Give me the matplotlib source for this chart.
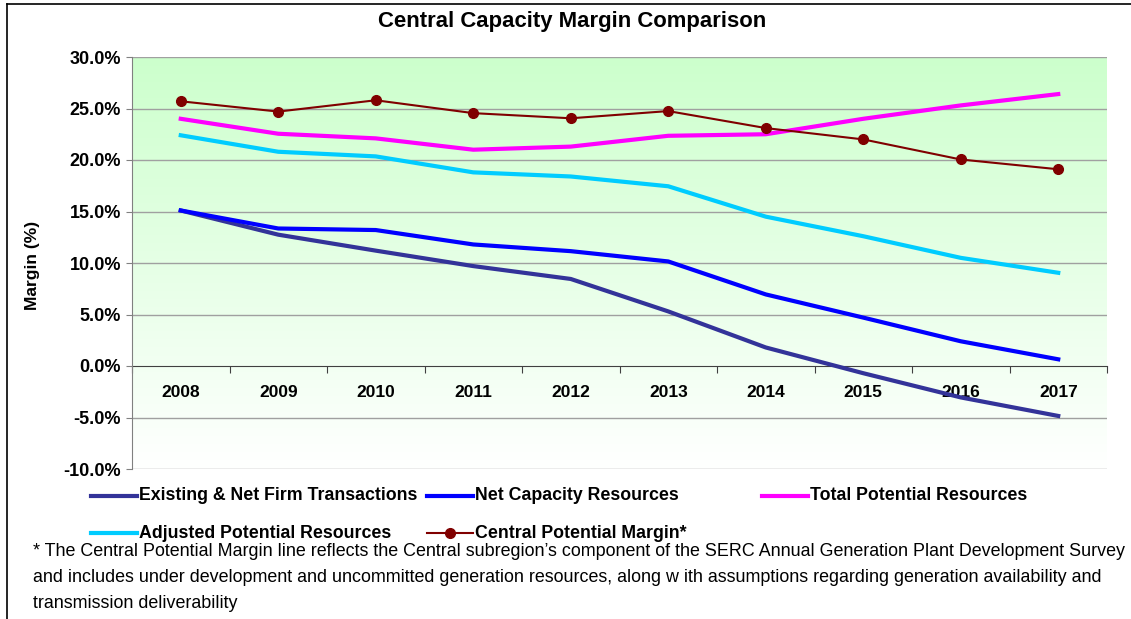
import matplotlib.pyplot as plt
import numpy as np
from matplotlib.lines import Line2D
from matplotlib.ticker import FixedLocator, FuncFormatter

plt.rcParams['font.family'] = ['Liberation Sans', 'DejaVu Sans']

years = ['2008', '2009', '2010', '2011', '2012', '2013', '2014', '2015', '2016', '2017']
existing = [15.1, 12.75, 11.2, 9.7, 8.45, 5.3, 1.8, -0.7, -3.05, -4.85]
net_capacity = [15.1, 13.35, 13.2, 11.8, 11.15, 10.15, 6.95, 4.7, 2.4, 0.65]
total_potential = [24.0, 22.55, 22.1, 21.0, 21.3, 22.35, 22.5, 24.0, 25.3, 26.4]
adjusted_potential = [22.4, 20.8, 20.35, 18.8, 18.4, 17.45, 14.5, 12.6, 10.5, 9.05]
central_margin = [25.7, 24.7, 25.8, 24.55, 24.05, 24.75, 23.1, 22.0, 20.05, 19.1]

series_names = ['Existing & Net Firm Transactions', 'Net Capacity Resources',
                'Total Potential Resources', 'Adjusted Potential Resources',
                'Central Potential Margin*']
footnote = ["* The Central Potential Margin line reflects the Central subregion\u2019s component "
            "of the SERC Annual Generation Plant Development Survey",
            "and includes under development and uncommitted generation resources, along w ith "
            "assumptions regarding generation availability and",
            "transmission deliverability"]

W, H = 1131, 619
fig = plt.figure(figsize=(W / 100, H / 100), dpi=100)


def fx(px):
    return px / W


def fy(py):
    return 1 - py / H


ax = fig.add_axes([fx(132), fy(469), fx(1107) - fx(132), fy(57) - fy(469)])
x = np.arange(len(years))

# green-to-white vertical fill behind the plot
grad = np.linspace(0, 1, 256).reshape(-1, 1)
top = np.array([204, 255, 204]) / 255
bottom = np.array([255, 255, 255]) / 255
img = top + grad[..., None] * (bottom - top)
ax.imshow(img, extent=[-0.5, 9.5, -10, 30], aspect='auto', origin='upper', zorder=0)

ax.set_xlim(-0.5, 9.5)
ax.set_ylim(-10, 30)
for v in range(-10, 31, 5):
    if v != 0:
        ax.axhline(v, color='#a0a0a0', lw=1.0, zorder=1)

lw = 3.0
ax.plot(x, existing, color='#333399', lw=lw, zorder=3)
ax.plot(x, net_capacity, color='#0000ff', lw=lw, zorder=3)
ax.plot(x, total_potential, color='#ff00ff', lw=lw, zorder=3)
ax.plot(x, adjusted_potential, color='#00ccff', lw=lw, zorder=3)
ax.plot(x, central_margin, color='#800000', lw=1.5, marker='o', ms=7, zorder=4)

for s in ['top', 'right']:
    ax.spines[s].set_visible(False)
ax.spines['left'].set_color('#808080')
ax.spines['bottom'].set_position(('data', 0))
ax.spines['bottom'].set_color('#404040')
ax.spines['bottom'].set_zorder(2)

ax.yaxis.set_major_locator(FixedLocator(range(-10, 31, 5)))
ax.yaxis.set_major_formatter(FuncFormatter(lambda v, p: f'{v:.1f}%'))
ax.tick_params(axis='y', length=4, color='#808080', labelsize=13, pad=4)
for lab in ax.get_yticklabels():
    lab.set_fontweight('bold')

ax.set_xticks(np.arange(-0.5, 10, 1))
ax.set_xticklabels([])
ax.set_xticks(x, minor=True)
ax.set_xticklabels(years, minor=True, fontsize=12.5, fontweight='bold')
ax.tick_params(axis='x', which='major', length=5, color='#404040')
ax.tick_params(axis='x', which='minor', length=0, pad=14)

fig.text(fx(572), fy(22), 'Central Capacity Margin Comparison', ha='center', va='center',
         fontsize=15.9, fontweight='bold')
fig.text(fx(33), fy(265), 'Margin (%)', rotation=90, ha='center', va='center',
         fontsize=12.5, fontweight='bold')

# legend, laid out in three columns
styles = [dict(color='#333399'), dict(color='#0000ff'), dict(color='#ff00ff'),
          dict(color='#00ccff'), dict(color='#800000', marker=True)]
col_x = [91, 427, 762]
row_y = [496, 533]
for i, (name, st) in enumerate(zip(series_names, styles)):
    x0 = col_x[i % 3]
    y0 = row_y[i // 3]
    if st.get('marker'):
        fig.add_artist(Line2D([fx(x0), fx(x0 + 46)], [fy(y0), fy(y0)], color=st['color'],
                              lw=1.5))
        fig.add_artist(Line2D([fx(x0 + 23)], [fy(y0)], color=st['color'], marker='o', ms=7))
    else:
        fig.add_artist(Line2D([fx(x0), fx(x0 + 46)], [fy(y0), fy(y0)], color=st['color'],
                              lw=3.0))
    fig.text(fx(x0 + 48), fy(y0), name, ha='left', va='center', fontsize=12.8,
             fontweight='bold')

for i, line in enumerate(footnote):
    fig.text(fx(33), fy(552 + 25.5 * i), line, ha='left', va='center', fontsize=12.9)

# outer frame
fig.add_artist(Line2D([fx(7), fx(W)], [fy(4), fy(4)], color='black', lw=1.2))
fig.add_artist(Line2D([fx(7), fx(7)], [fy(4), fy(H)], color='black', lw=1.2))

fig.savefig('out.png', dpi=100)
